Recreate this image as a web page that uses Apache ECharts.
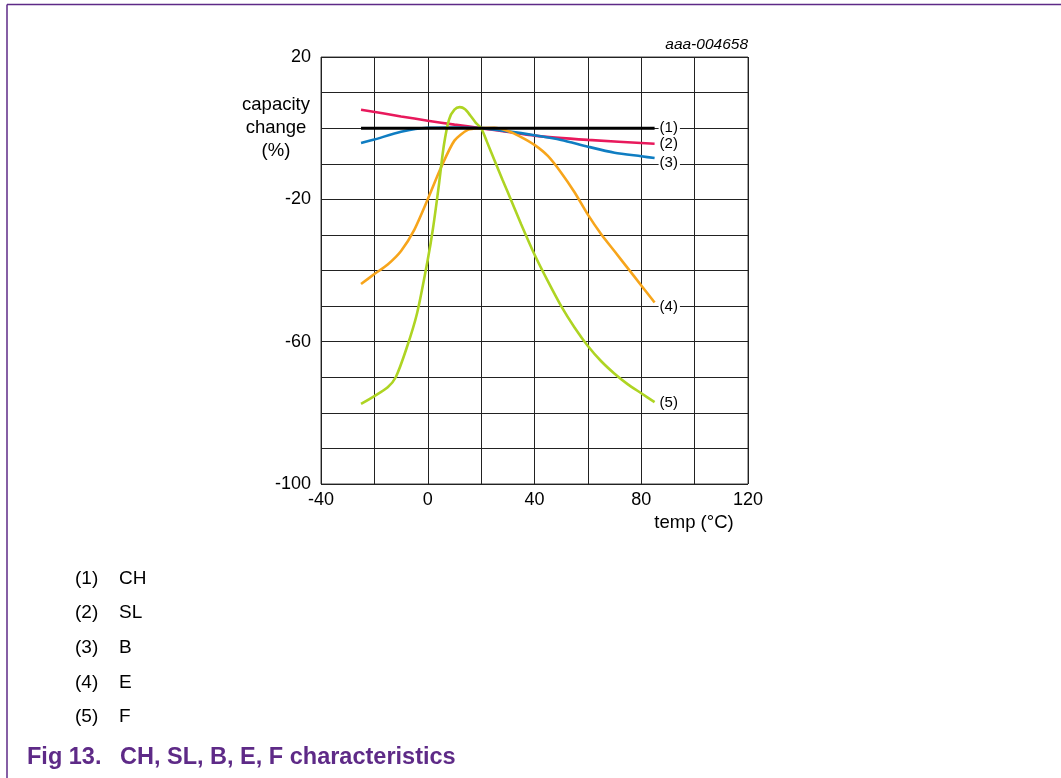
<!DOCTYPE html>
<html><head><meta charset="utf-8">
<script src="https://cdn.jsdelivr.net/npm/echarts@6/dist/echarts.min.js"></script>
<style>html,body{margin:0;padding:0;background:#fff}#c{width:1061px;height:778px}</style>
</head><body><div id="c"></div>
<script>
const seriesNames = ['(1)', '(2)', '(3)', '(4)', '(5)'];
const legendCodes = ['CH', 'SL', 'B', 'E', 'F'];
const xTicks = [-40, 0, 40, 80, 120];
const yTicks = [20, -20, -60, -100];

const chData = [[-25, 0], [85, 0]];
const slData = [[-25, 5.2], [-10, 3.3], [0, 2.1], [10, 1.0], [20, 0], [40, -2.1], [60, -3.3], [85, -4.4]];
const bData = [[-25, -4.2], [-20, -3.2], [-10, -1.0], [0, 0.1], [10, 0.2], [20, 0], [30, -0.9], [40, -2.0], [50, -3.3], [60, -5.2], [70, -6.9], [80, -7.9], [85, -8.4]];
const eData = [[-25, -43.8], [-20, -41], [-15, -38.3], [-10, -34.5], [-5, -28.5], [0, -20], [5, -11], [10, -3.5], [15, -0.5], [20, 0], [25, 0.1], [30, -0.8], [35, -2.5], [40, -4.7], [45, -7.8], [50, -12.5], [55, -18], [60, -24.3], [65, -29.8], [70, -34.6], [75, -39.4], [80, -44.2], [85, -49]];
const fData = [[-25, -77.5], [-20, -75.3], [-15, -72.8], [-12, -70], [-8, -62], [-4, -52], [0, -37], [2, -28], [4, -17], [6, -5], [8, 2.5], [10, 5.2], [12, 5.9], [14, 5.3], [16, 3.5], [18, 1.5], [20, 0], [22, -3.5], [25, -9], [28, -14.5], [30, -18], [35, -27], [40, -35.5], [45, -43], [50, -50], [55, -56], [60, -61.2], [65, -65.5], [70, -69], [75, -72], [80, -74.5], [85, -77]];

const allData = [chData, slData, bData, eData, fData];
const colors = ['#000000', '#e8195c', '#0f7dc2', '#f7a51b', '#aed423'];
const widths = [3, 2.6, 2.6, 2.6, 2.6];
const labelOffsets = [[0, 0], [0, 0], [0, 5], [0, 4], [0, 1]];

const chart = echarts.init(document.getElementById('c'));
const FONT = 'Liberation Sans, Arial, sans-serif';
const purple = '#5e2a87';

const series = allData.map((d, i) => ({
  name: seriesNames[i],
  type: 'line',
  data: d,
  smooth: i === 0 ? false : 0.25,
  showSymbol: false,
  symbol: 'none',
  z: 5 + i,
  lineStyle: { color: colors[i], width: widths[i] },
  endLabel: {
    show: true,
    formatter: seriesNames[i],
    color: '#000',
    fontFamily: FONT,
    fontSize: 15,
    distance: 4,
    offset: labelOffsets[i],
    backgroundColor: '#fff',
    padding: [0, 2, 0, 1]
  }
}));
series[0].z = 12;

const graphics = [
  { type: 'line', shape: { x1: 7, y1: 4.5, x2: 1061, y2: 4.5 }, style: { stroke: purple, lineWidth: 1.5 } },
  { type: 'line', shape: { x1: 7, y1: 4.5, x2: 7, y2: 778 }, style: { stroke: purple, lineWidth: 1.5 } },
  { type: 'text', x: 748, y: 37, style: { text: 'aaa-004658', font: 'italic 15.5px ' + FONT, fill: '#000', align: 'right', verticalAlign: 'top' } },
  { type: 'text', x: 276, y: 93, style: { text: 'capacity\nchange\n(%)', font: '18.5px ' + FONT, fill: '#000', align: 'center', verticalAlign: 'top', lineHeight: 23 } },
  { type: 'text', x: 694, y: 513, style: { text: 'temp (°C)', font: '18.5px ' + FONT, fill: '#000', align: 'center', verticalAlign: 'top' } },
  { type: 'text', x: 27, y: 746, style: { text: 'Fig 13.', font: 'bold 23.5px ' + FONT, fill: purple, verticalAlign: 'top' } },
  { type: 'text', x: 120, y: 746, style: { text: 'CH, SL, B, E, F characteristics', font: 'bold 23.5px ' + FONT, fill: purple, verticalAlign: 'top' } }
];
const legendY = [569, 603, 638, 673, 707];
legendCodes.forEach((c, i) => {
  graphics.push({ type: 'text', x: 75, y: legendY[i], style: { text: seriesNames[i], font: '19px ' + FONT, fill: '#000', verticalAlign: 'top' } });
  graphics.push({ type: 'text', x: 119, y: legendY[i], style: { text: c, font: '19px ' + FONT, fill: '#000', verticalAlign: 'top' } });
});

chart.setOption({
  animation: false,
  backgroundColor: '#fff',
  grid: { left: 321, top: 57, width: 427, height: 427, show: true, borderColor: '#444', borderWidth: 1, containLabel: false },
  xAxis: {
    type: 'value', min: -40, max: 120, interval: 20,
    axisLine: { show: false }, axisTick: { show: false },
    splitLine: { show: true, lineStyle: { color: '#222', width: 1 } },
    axisLabel: {
      color: '#000', fontSize: 18, fontFamily: FONT, margin: 7,
      formatter: v => xTicks.includes(v) ? String(v) : ''
    }
  },
  yAxis: {
    type: 'value', min: -100, max: 20, interval: 10,
    axisLine: { show: false }, axisTick: { show: false },
    splitLine: { show: true, lineStyle: { color: '#222', width: 1 } },
    axisLabel: {
      color: '#000', fontSize: 18, fontFamily: FONT, margin: 10,
      formatter: v => yTicks.includes(v) ? String(v) : ''
    }
  },
  series: series,
  graphic: graphics
});
</script></body></html>
